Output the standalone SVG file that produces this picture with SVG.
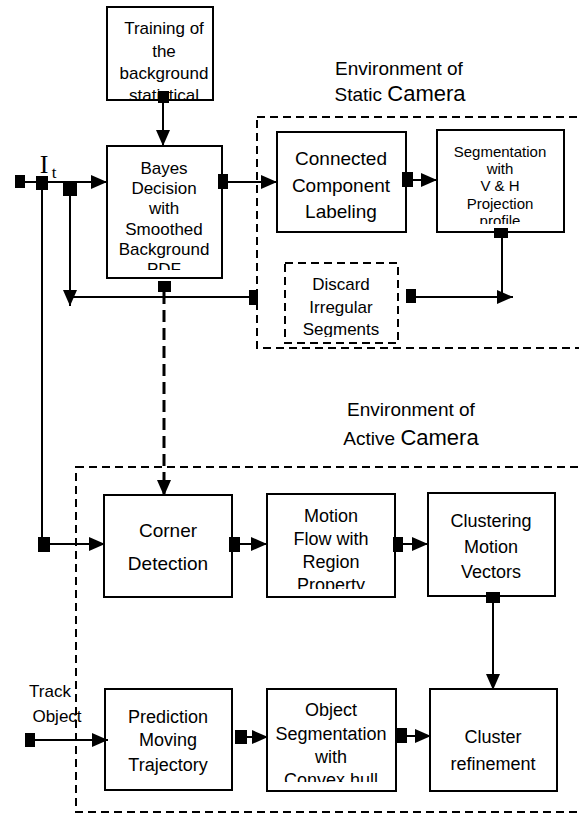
<svg xmlns="http://www.w3.org/2000/svg" width="579" height="814" viewBox="0 0 579 814">
<style>
  .box{fill:#fff;stroke:#000;stroke-width:2}
  .dbox{fill:none;stroke:#000;stroke-width:2;stroke-dasharray:8 5}
  .ln{fill:none;stroke:#000;stroke-width:2}
  .dln{fill:none;stroke:#000;stroke-width:3;stroke-dasharray:12 6}
  .sq{fill:#000}
  text{font-family:"Liberation Sans",Arial,sans-serif;fill:#000;text-anchor:middle}
  .t15{font-size:15px}
  .t17{font-size:17px}
  .t18{font-size:18px}
  .t19{font-size:19px}
  .env{font-size:19px}
  .big{font-size:22px}
</style>
<defs>
  <marker id="ah" markerUnits="userSpaceOnUse" markerWidth="17" markerHeight="14" refX="16" refY="7" orient="auto">
    <path d="M0,0 L16,7 L0,14 z" fill="#000"/>
  </marker>
  <clipPath id="c-train"><rect x="107" y="7" width="106" height="93"/></clipPath>
  <clipPath id="c-bayes"><rect x="107" y="146" width="115" height="124"/></clipPath>
  <clipPath id="c-seg"><rect x="437" y="130" width="127" height="94"/></clipPath>
  <clipPath id="c-disc"><rect x="285" y="263" width="113" height="74"/></clipPath>
  <clipPath id="c-motion"><rect x="267" y="494" width="128" height="95"/></clipPath>
  <clipPath id="c-objseg"><rect x="267" y="689" width="129" height="93"/></clipPath>
</defs>
<rect width="579" height="814" fill="#fff"/>

<!-- environment containers -->
<g id="env-static">
  <rect class="dbox" x="257" y="117" width="340" height="231"/>
  <text class="env" x="399" y="75">Environment of</text>
  <text x="400" y="101"><tspan class="env">Static </tspan><tspan class="big">Camera</tspan></text>
</g>
<g id="env-active">
  <rect class="dbox" x="76" y="467" width="520" height="345"/>
  <text class="env" x="411" y="416">Environment of</text>
  <text x="411" y="445"><tspan class="env">Active </tspan><tspan class="big">Camera</tspan></text>
</g>

<!-- nodes -->
<g id="training">
  <rect class="box" x="107" y="7" width="106" height="93"/>
  <g clip-path="url(#c-train)" class="t17">
    <text x="164" y="34">Training of</text>
    <text x="164" y="57">the</text>
    <text x="164" y="79">background</text>
    <text x="164" y="101">statistical</text>
  </g>
</g>
<g id="bayes">
  <rect class="box" x="107" y="146" width="115" height="132"/>
  <g clip-path="url(#c-bayes)" class="t17">
    <text x="164" y="174">Bayes</text>
    <text x="164" y="194">Decision</text>
    <text x="164" y="214">with</text>
    <text x="164" y="235">Smoothed</text>
    <text x="164" y="255">Background</text>
    <text x="164" y="275">PDF</text>
  </g>
</g>
<g id="ccl">
  <rect class="box" x="277" y="132" width="129" height="100"/>
  <text class="t19" x="341" y="165">Connected</text>
  <text class="t19" x="341" y="192">Component</text>
  <text class="t19" x="341" y="218">Labeling</text>
</g>
<g id="segvh">
  <rect class="box" x="437" y="130" width="127" height="102"/>
  <g clip-path="url(#c-seg)" class="t15">
    <text x="500" y="157">Segmentation</text>
    <text x="500" y="174">with</text>
    <text x="500" y="191">V &amp; H</text>
    <text x="500" y="209">Projection</text>
    <text x="500" y="226">profile</text>
  </g>
</g>
<g id="discard">
  <rect class="dbox" x="285" y="263" width="113" height="80"/>
  <g clip-path="url(#c-disc)" class="t17">
    <text x="341" y="290">Discard</text>
    <text x="341" y="313">Irregular</text>
    <text x="341" y="335">Segments</text>
  </g>
</g>
<g id="corner">
  <rect class="box" x="104" y="495" width="128" height="102"/>
  <text class="t19" x="168" y="537">Corner</text>
  <text class="t19" x="168" y="570">Detection</text>
</g>
<g id="motion">
  <rect class="box" x="267" y="494" width="128" height="103"/>
  <g clip-path="url(#c-motion)" class="t18">
    <text x="331" y="522">Motion</text>
    <text x="331" y="545">Flow with</text>
    <text x="331" y="568">Region</text>
    <text x="331" y="591">Property</text>
  </g>
</g>
<g id="clustering">
  <rect class="box" x="428" y="493" width="127" height="103"/>
  <text class="t18" x="491" y="527">Clustering</text>
  <text class="t18" x="491" y="553">Motion</text>
  <text class="t18" x="491" y="578">Vectors</text>
</g>
<g id="prediction">
  <rect class="box" x="105" y="689" width="127" height="101"/>
  <text class="t18" x="168" y="723">Prediction</text>
  <text class="t18" x="168" y="746">Moving</text>
  <text class="t18" x="168" y="771">Trajectory</text>
</g>
<g id="objseg">
  <rect class="box" x="267" y="689" width="129" height="102"/>
  <g clip-path="url(#c-objseg)" class="t18">
    <text x="331" y="716">Object</text>
    <text x="331" y="740">Segmentation</text>
    <text x="331" y="763">with</text>
    <text x="331" y="786">Convex hull</text>
  </g>
</g>
<g id="refine">
  <rect class="box" x="430" y="689" width="127" height="102"/>
  <text class="t18" x="493" y="743">Cluster</text>
  <text class="t18" x="493" y="770">refinement</text>
</g>

<!-- input labels -->
<g id="label-it">
  <text x="44" y="173" style="font-family:'Liberation Serif',serif;font-size:26px">I</text>
  <text x="54" y="178" style="font-family:'Liberation Serif',serif;font-size:17px">t</text>
</g>
<g id="label-track">
  <text class="t17" x="50" y="697">Track</text>
  <text class="t17" x="57" y="722">Object</text>
</g>

<!-- connectors -->
<g id="connectors">
  <line class="ln" x1="163" y1="103" x2="163" y2="146" marker-end="url(#ah)"/>
  <line class="ln" x1="25" y1="182" x2="107" y2="182" marker-end="url(#ah)"/>
  <line class="ln" x1="42" y1="189" x2="42" y2="544"/>
  <line class="ln" x1="50" y1="544" x2="105" y2="544" marker-end="url(#ah)"/>
  <line class="ln" x1="70" y1="195" x2="70" y2="306" marker-end="url(#ah)"/>
  <line class="ln" x1="70" y1="297" x2="250" y2="297"/>
  <line class="ln" x1="228" y1="182" x2="277" y2="182" marker-end="url(#ah)"/>
  <line class="ln" x1="413" y1="180" x2="437" y2="180" marker-end="url(#ah)"/>
  <line class="ln" x1="502" y1="238" x2="502" y2="297"/>
  <line class="ln" x1="415" y1="297" x2="513" y2="297" marker-end="url(#ah)"/>
  <line class="dln" x1="164" y1="292" x2="164" y2="496" marker-end="url(#ah)"/>
  <line class="ln" x1="240" y1="544" x2="267" y2="544" marker-end="url(#ah)"/>
  <line class="ln" x1="403" y1="544" x2="428" y2="544" marker-end="url(#ah)"/>
  <line class="ln" x1="493" y1="603" x2="493" y2="690" marker-end="url(#ah)"/>
  <line class="ln" x1="35" y1="740" x2="108" y2="740" marker-end="url(#ah)"/>
  <line class="ln" x1="247" y1="737" x2="268" y2="737" marker-end="url(#ah)"/>
  <line class="ln" x1="407" y1="736" x2="431" y2="736" marker-end="url(#ah)"/>
  <rect class="sq" x="158" y="91" width="11" height="12"/>
  <rect class="sq" x="15" y="175" width="10" height="13"/>
  <rect class="sq" x="36" y="176" width="12" height="14"/>
  <rect class="sq" x="63" y="183" width="14" height="13"/>
  <rect class="sq" x="249" y="290" width="9" height="15"/>
  <rect class="sq" x="218" y="174" width="10" height="15"/>
  <rect class="sq" x="402" y="172" width="11" height="15"/>
  <rect class="sq" x="494" y="228" width="14" height="10"/>
  <rect class="sq" x="406" y="289" width="10" height="14"/>
  <rect class="sq" x="158" y="281" width="13" height="11"/>
  <rect class="sq" x="38" y="537" width="12" height="15"/>
  <rect class="sq" x="229" y="537" width="11" height="15"/>
  <rect class="sq" x="393" y="537" width="10" height="15"/>
  <rect class="sq" x="486" y="592" width="14" height="11"/>
  <rect class="sq" x="25" y="733" width="10" height="14"/>
  <rect class="sq" x="235" y="730" width="12" height="14"/>
  <rect class="sq" x="396" y="728" width="11" height="15"/>
</g>
</svg>
